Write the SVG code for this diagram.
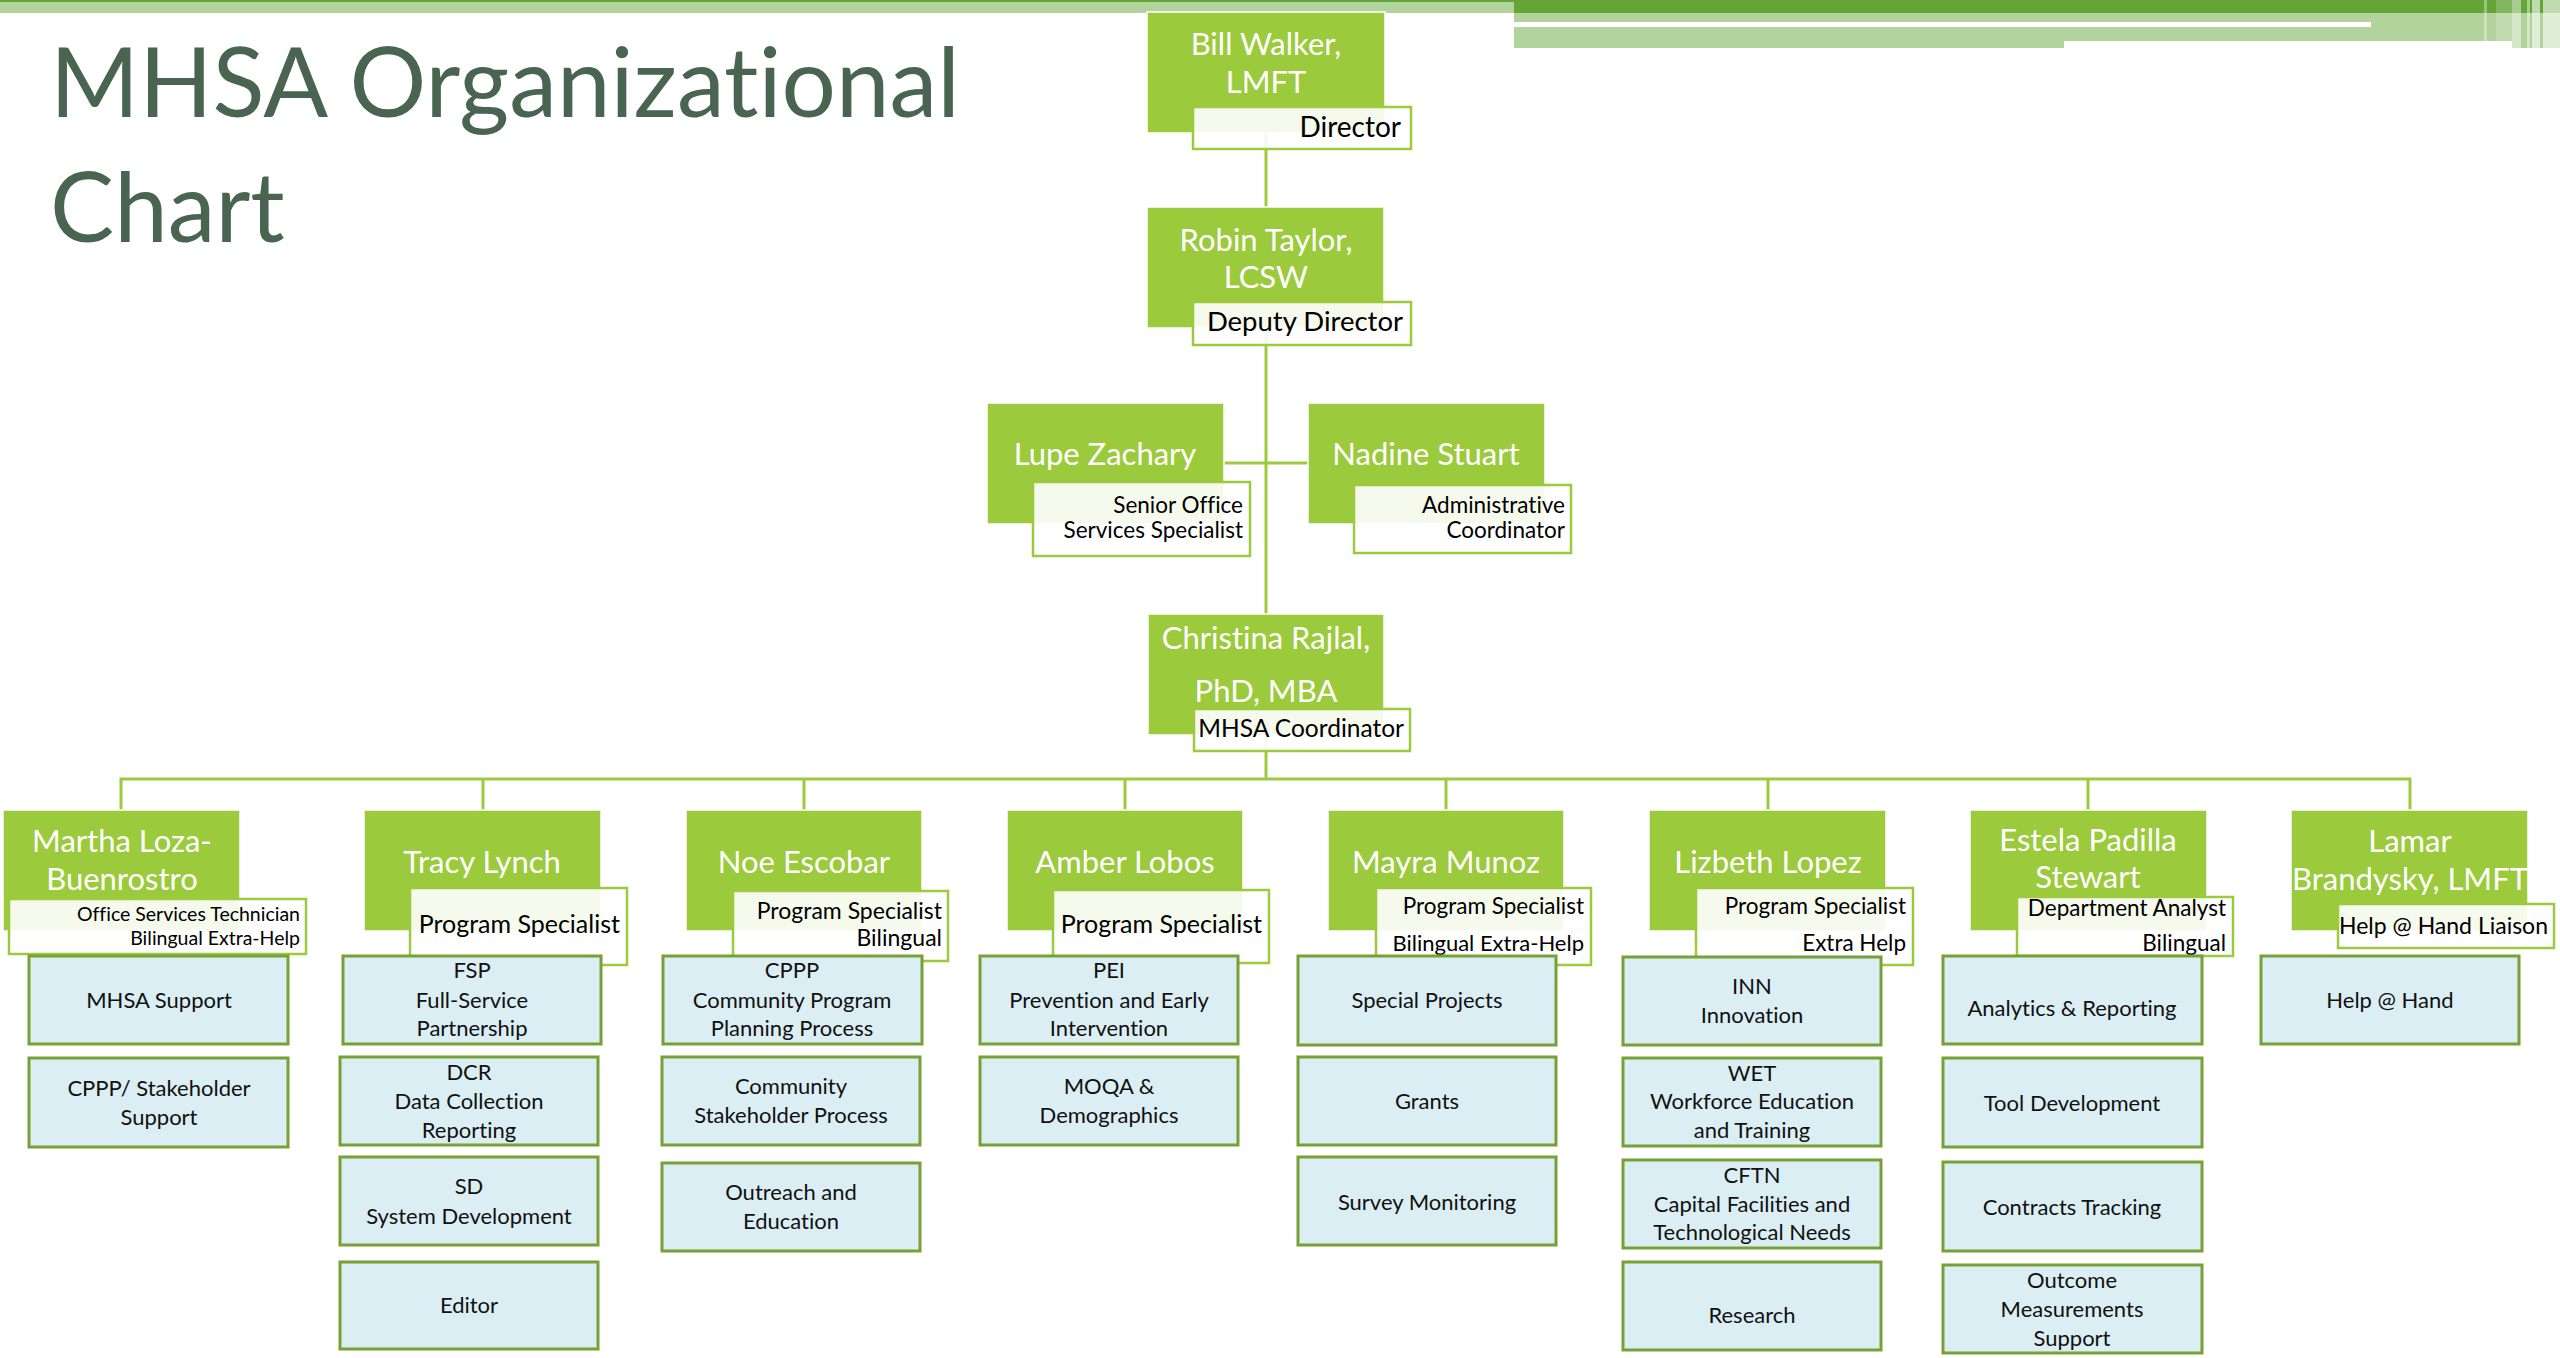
<svg xmlns="http://www.w3.org/2000/svg" width="2560" height="1358" viewBox="0 0 2560 1358">
<style>
.g{fill:#9bcb3c;stroke:#fff;stroke-width:1.5}
.lb{fill:#fff;fill-opacity:0.9;stroke:#9bcb3c;stroke-width:2.5}
.bb{fill:#dbeef4;stroke:#77a035;stroke-width:3}
.cn{stroke:#9bcb3c;stroke-width:3;fill:none}
text{font-family:Lato,"Open Sans","Liberation Sans",sans-serif;font-variant-ligatures:none;font-feature-settings:"liga" 0}
.nm{fill:#fff;font-size:31px;text-anchor:middle}
.tt{fill:#000;text-anchor:end}
.bt{fill:#111;font-size:22px;text-anchor:middle}
.ti{fill:#4a6452;font-size:96px}
</style>
<rect width="2560" height="1358" fill="#fff"/>
<g id="topbar">
<rect x="0" y="0" width="1514" height="2" fill="#63a537"/>
<rect x="0" y="2" width="1514" height="11" fill="#b2d39c"/>
<rect x="1514" y="0" width="1046" height="13" fill="#63a537"/>
<rect x="1514" y="13" width="1046" height="35" fill="#b2d39c"/>
<rect x="1514" y="22" width="857" height="5" fill="#fff"/>
<rect x="2064" y="41" width="448" height="7" fill="#fff"/>
<rect x="2484" y="0" width="3" height="48" fill="#fff" fill-opacity="0.35"/>
<rect x="2496" y="0" width="16" height="48" fill="#fff" fill-opacity="0.2"/>
<rect x="2512" y="0" width="9" height="48" fill="#fff" fill-opacity="0.45"/>
<rect x="2527" y="0" width="3" height="48" fill="#fff" fill-opacity="0.45"/>
<rect x="2532" y="0" width="8" height="48" fill="#fff" fill-opacity="0.6"/>
<rect x="2543" y="0" width="17" height="48" fill="#fff" fill-opacity="0.6"/>
</g>
<g id="title">
<text class="ti" x="50" y="117">MHSA Organizational</text>
<text class="ti" x="50" y="242">Chart</text>
</g>
<g id="connectors">
<path class="cn" d="M1266 133V779"/>
<path class="cn" d="M1224 463H1308"/>
<path class="cn" d="M121 810V779H2410V810"/>
<path class="cn" d="M483 779V810M804 779V810M1125 779V810M1446 779V810M1768 779V810M2088 779V810"/>
</g>
<g id="bill">
<rect class="g" x="1147" y="12" width="238" height="121"/>
<text class="nm" x="1266" y="55">Bill Walker,</text>
<text class="nm" x="1266" y="93">LMFT</text>
<rect class="lb" x="1193" y="107" width="218" height="42"/>
<text class="tt" x="1401" y="137" font-size="28">Director</text>
</g>
<g id="robin">
<rect class="g" x="1147" y="207" width="237" height="121"/>
<text class="nm" x="1266" y="251">Robin Taylor,</text>
<text class="nm" x="1266" y="288">LCSW</text>
<rect class="lb" x="1193" y="302" width="218" height="43"/>
<text class="tt" x="1403" y="331" font-size="27.5">Deputy Director</text>
</g>
<g id="lupe">
<rect class="g" x="987" y="403" width="237" height="121"/>
<text class="nm" x="1105" y="465">Lupe Zachary</text>
<rect class="lb" x="1033" y="482" width="217" height="74"/>
<text class="tt" x="1243" y="513" font-size="22.5">Senior Office</text>
<text class="tt" x="1243" y="538" font-size="22.5">Services Specialist</text>
</g>
<g id="nadine">
<rect class="g" x="1308" y="403" width="237" height="121"/>
<text class="nm" x="1426" y="465">Nadine Stuart</text>
<rect class="lb" x="1354" y="485" width="217" height="68"/>
<text class="tt" x="1565" y="513" font-size="22.5">Administrative</text>
<text class="tt" x="1565" y="538" font-size="22.5">Coordinator</text>
</g>
<g id="christina">
<rect class="g" x="1148" y="614" width="236" height="121"/>
<text class="nm" x="1266" y="649">Christina Rajlal,</text>
<text class="nm" x="1266" y="702">PhD, MBA</text>
<rect class="lb" x="1194" y="709" width="216" height="42"/>
<text class="tt" x="1404" y="737" font-size="24.5">MHSA Coordinator</text>
</g>
<g id="martha">
<rect class="g" x="3" y="810" width="237" height="121"/>
<text class="nm" x="122" y="852">Martha Loza-</text>
<text class="nm" x="122" y="890">Buenrostro</text>
<rect class="lb" x="9" y="899" width="297" height="55"/>
<text class="tt" x="300" y="921" font-size="19.5">Office Services Technician</text>
<text class="tt" x="300" y="945" font-size="19.5">Bilingual Extra-Help</text>
</g>
<g id="tracy">
<rect class="g" x="364" y="810" width="237" height="121"/>
<text class="nm" x="482" y="873">Tracy Lynch</text>
<rect class="lb" x="410" y="888" width="217" height="77"/>
<text class="tt" x="620" y="933" font-size="25">Program Specialist</text>
</g>
<g id="noe">
<rect class="g" x="686" y="810" width="236" height="121"/>
<text class="nm" x="804" y="873">Noe Escobar</text>
<rect class="lb" x="733" y="891" width="215" height="70"/>
<text class="tt" x="942" y="919" font-size="23">Program Specialist</text>
<text class="tt" x="942" y="946" font-size="23">Bilingual</text>
</g>
<g id="amber">
<rect class="g" x="1007" y="810" width="236" height="121"/>
<text class="nm" x="1125" y="873">Amber Lobos</text>
<rect class="lb" x="1053" y="890" width="216" height="73"/>
<text class="tt" x="1262" y="933" font-size="25">Program Specialist</text>
</g>
<g id="mayra">
<rect class="g" x="1328" y="810" width="236" height="121"/>
<text class="nm" x="1446" y="873">Mayra Munoz</text>
<rect class="lb" x="1376" y="888" width="215" height="77"/>
<text class="tt" x="1584" y="914" font-size="22.5">Program Specialist</text>
<text class="tt" x="1584" y="951" font-size="22">Bilingual Extra-Help</text>
</g>
<g id="lizbeth">
<rect class="g" x="1649" y="810" width="237" height="121"/>
<text class="nm" x="1768" y="873">Lizbeth Lopez</text>
<rect class="lb" x="1696" y="888" width="217" height="77"/>
<text class="tt" x="1906" y="914" font-size="22.5">Program Specialist</text>
<text class="tt" x="1906" y="951" font-size="22.5">Extra Help</text>
</g>
<g id="estela">
<rect class="g" x="1970" y="810" width="237" height="121"/>
<text class="nm" x="2088" y="851">Estela Padilla</text>
<text class="nm" x="2088" y="888">Stewart</text>
<rect class="lb" x="2017" y="897" width="216" height="59"/>
<text class="tt" x="2226" y="916" font-size="22.5">Department Analyst</text>
<text class="tt" x="2226" y="951" font-size="22.5">Bilingual</text>
</g>
<g id="lamar">
<rect class="g" x="2291" y="810" width="237" height="121"/>
<text class="nm" x="2410" y="852">Lamar</text>
<text class="nm" x="2410" y="890">Brandysky, LMFT</text>
<rect class="lb" x="2338" y="904" width="216" height="44"/>
<text class="tt" x="2548" y="934" font-size="23">Help @ Hand Liaison</text>
</g>
<g id="mhsa-support"><rect class="bb" x="29" y="956" width="259" height="88"/><text class="bt" x="159" y="1008">MHSA Support</text></g>
<g id="cppp-support"><rect class="bb" x="29" y="1058" width="259" height="89"/><text class="bt" x="159" y="1096">CPPP/ Stakeholder</text><text class="bt" x="159" y="1125">Support</text></g>
<g id="fsp"><rect class="bb" x="343" y="956" width="258" height="88"/><text class="bt" x="472" y="978">FSP</text><text class="bt" x="472" y="1008">Full-Service</text><text class="bt" x="472" y="1036">Partnership</text></g>
<g id="dcr"><rect class="bb" x="340" y="1057" width="258" height="88"/><text class="bt" x="469" y="1080">DCR</text><text class="bt" x="469" y="1109">Data Collection</text><text class="bt" x="469" y="1138">Reporting</text></g>
<g id="sd"><rect class="bb" x="340" y="1157" width="258" height="88"/><text class="bt" x="469" y="1194">SD</text><text class="bt" x="469" y="1224">System Development</text></g>
<g id="editor"><rect class="bb" x="340" y="1262" width="258" height="87"/><text class="bt" x="469" y="1313">Editor</text></g>
<g id="cppp"><rect class="bb" x="663" y="956" width="259" height="88"/><text class="bt" x="792" y="978">CPPP</text><text class="bt" x="792" y="1008">Community Program</text><text class="bt" x="792" y="1036">Planning Process</text></g>
<g id="csp"><rect class="bb" x="662" y="1057" width="258" height="88"/><text class="bt" x="791" y="1094">Community</text><text class="bt" x="791" y="1123">Stakeholder Process</text></g>
<g id="outreach"><rect class="bb" x="662" y="1163" width="258" height="88"/><text class="bt" x="791" y="1200">Outreach and</text><text class="bt" x="791" y="1229">Education</text></g>
<g id="pei"><rect class="bb" x="980" y="956" width="258" height="88"/><text class="bt" x="1109" y="978">PEI</text><text class="bt" x="1109" y="1008">Prevention and Early</text><text class="bt" x="1109" y="1036">Intervention</text></g>
<g id="moqa"><rect class="bb" x="980" y="1057" width="258" height="88"/><text class="bt" x="1109" y="1094">MOQA &amp;</text><text class="bt" x="1109" y="1123">Demographics</text></g>
<g id="special"><rect class="bb" x="1298" y="956" width="258" height="89"/><text class="bt" x="1427" y="1008">Special Projects</text></g>
<g id="grants"><rect class="bb" x="1298" y="1057" width="258" height="88"/><text class="bt" x="1427" y="1109">Grants</text></g>
<g id="survey"><rect class="bb" x="1298" y="1157" width="258" height="88"/><text class="bt" x="1427" y="1210">Survey Monitoring</text></g>
<g id="inn"><rect class="bb" x="1623" y="957" width="258" height="88"/><text class="bt" x="1752" y="994">INN</text><text class="bt" x="1752" y="1023">Innovation</text></g>
<g id="wet"><rect class="bb" x="1623" y="1058" width="258" height="88"/><text class="bt" x="1752" y="1081">WET</text><text class="bt" x="1752" y="1109">Workforce Education</text><text class="bt" x="1752" y="1138">and Training</text></g>
<g id="cftn"><rect class="bb" x="1623" y="1160" width="258" height="88"/><text class="bt" x="1752" y="1183">CFTN</text><text class="bt" x="1752" y="1212">Capital Facilities and</text><text class="bt" x="1752" y="1240">Technological Needs</text></g>
<g id="research"><rect class="bb" x="1623" y="1262" width="258" height="88"/><text class="bt" x="1752" y="1323">Research</text></g>
<g id="analytics"><rect class="bb" x="1943" y="956" width="259" height="88"/><text class="bt" x="2072" y="1016">Analytics &amp; Reporting</text></g>
<g id="tool"><rect class="bb" x="1943" y="1058" width="259" height="89"/><text class="bt" x="2072" y="1111">Tool Development</text></g>
<g id="contracts"><rect class="bb" x="1943" y="1162" width="259" height="89"/><text class="bt" x="2072" y="1215">Contracts Tracking</text></g>
<g id="outcome"><rect class="bb" x="1943" y="1265" width="259" height="88"/><text class="bt" x="2072" y="1288">Outcome</text><text class="bt" x="2072" y="1317">Measurements</text><text class="bt" x="2072" y="1346">Support</text></g>
<g id="helphand"><rect class="bb" x="2261" y="956" width="258" height="88"/><text class="bt" x="2390" y="1008">Help @ Hand</text></g>
</svg>
